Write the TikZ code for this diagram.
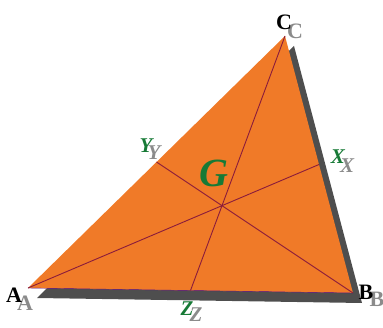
\documentclass[tikz,border=0pt]{standalone}
\usepackage{fontspec}
\setmainfont{Liberation Serif}
\usetikzlibrary{calc}
\definecolor{triorange}{HTML}{F07A28}
\definecolor{shadowgray}{HTML}{4E4E4E}
\definecolor{medianred}{HTML}{8A1C3C}
\definecolor{labelgreen}{HTML}{177A36}
\definecolor{txtshadow}{HTML}{6E6E6E}
\begin{document}
\begin{tikzpicture}[x=1pt,y=-1pt,
  vlabel/.style={font=\fontsize{22}{22}\selectfont\bfseries, text=black, inner sep=0pt},
  vshadow/.style={font=\fontsize{22}{22}\selectfont\bfseries, text=txtshadow, opacity=0.8, inner sep=0pt},
  mlabel/.style={font=\fontsize{21}{21}\selectfont\bfseries\itshape, text=labelgreen, inner sep=0pt},
  mshadow/.style={font=\fontsize{21}{21}\selectfont\bfseries\itshape, text=txtshadow, opacity=0.8, inner sep=0pt},
  median/.style={draw=medianred, line width=0.9pt}]
\useasboundingbox (0,0) rectangle (383,328);
% vertices
\coordinate (A) at (28,288);
\coordinate (B) at (353,293);
\coordinate (C) at (285,36);
\coordinate (As) at (37,298);
\coordinate (Bs) at (362,303);
\coordinate (Cs) at (294,46);
% shadow
\fill[shadowgray] (As) -- (Bs) -- (Cs) -- cycle;
% triangle
\fill[triorange] (A) -- (B) -- (C) -- cycle;
\draw[medianred!60!blue, line width=0.4pt] (A) -- (B);
% midpoints
\coordinate (X) at ($(B)!0.5!(C)$);
\coordinate (Y) at ($(A)!0.5!(C)$);
\coordinate (Z) at ($(A)!0.5!(B)$);
\draw[median] (A) -- (X);
\draw[median] (B) -- (Y);
\draw[median] (C) -- (Z);
% labels with shadows
\node[vshadow] (As-l) at (25,303) {A};
\node[vlabel] (A-l) at (14,295) {A};
\node[vshadow] (Bs-l) at (377,299) {B};
\node[vlabel] (B-l) at (366,292) {B};
\node[vshadow] (Cs-l) at (295,31) {C};
\node[vlabel] (C-l) at (284,22) {C};
\node[mshadow] (Xs-l) at (347,166) {X};
\node[mlabel] (X-l) at (338,157) {X};
\node[mshadow] (Ys-l) at (154,153) {Y};
\node[mlabel] (Y-l) at (146,146) {Y};
\node[mshadow] (Zs-l) at (196,315) {Z};
\node[mlabel] (Z-l) at (187,309) {Z};
\node[font=\fontsize{40}{40}\selectfont\bfseries\itshape, text=labelgreen, inner sep=0pt] (G-l) at (214,173) {G};
\end{tikzpicture}
\end{document}
